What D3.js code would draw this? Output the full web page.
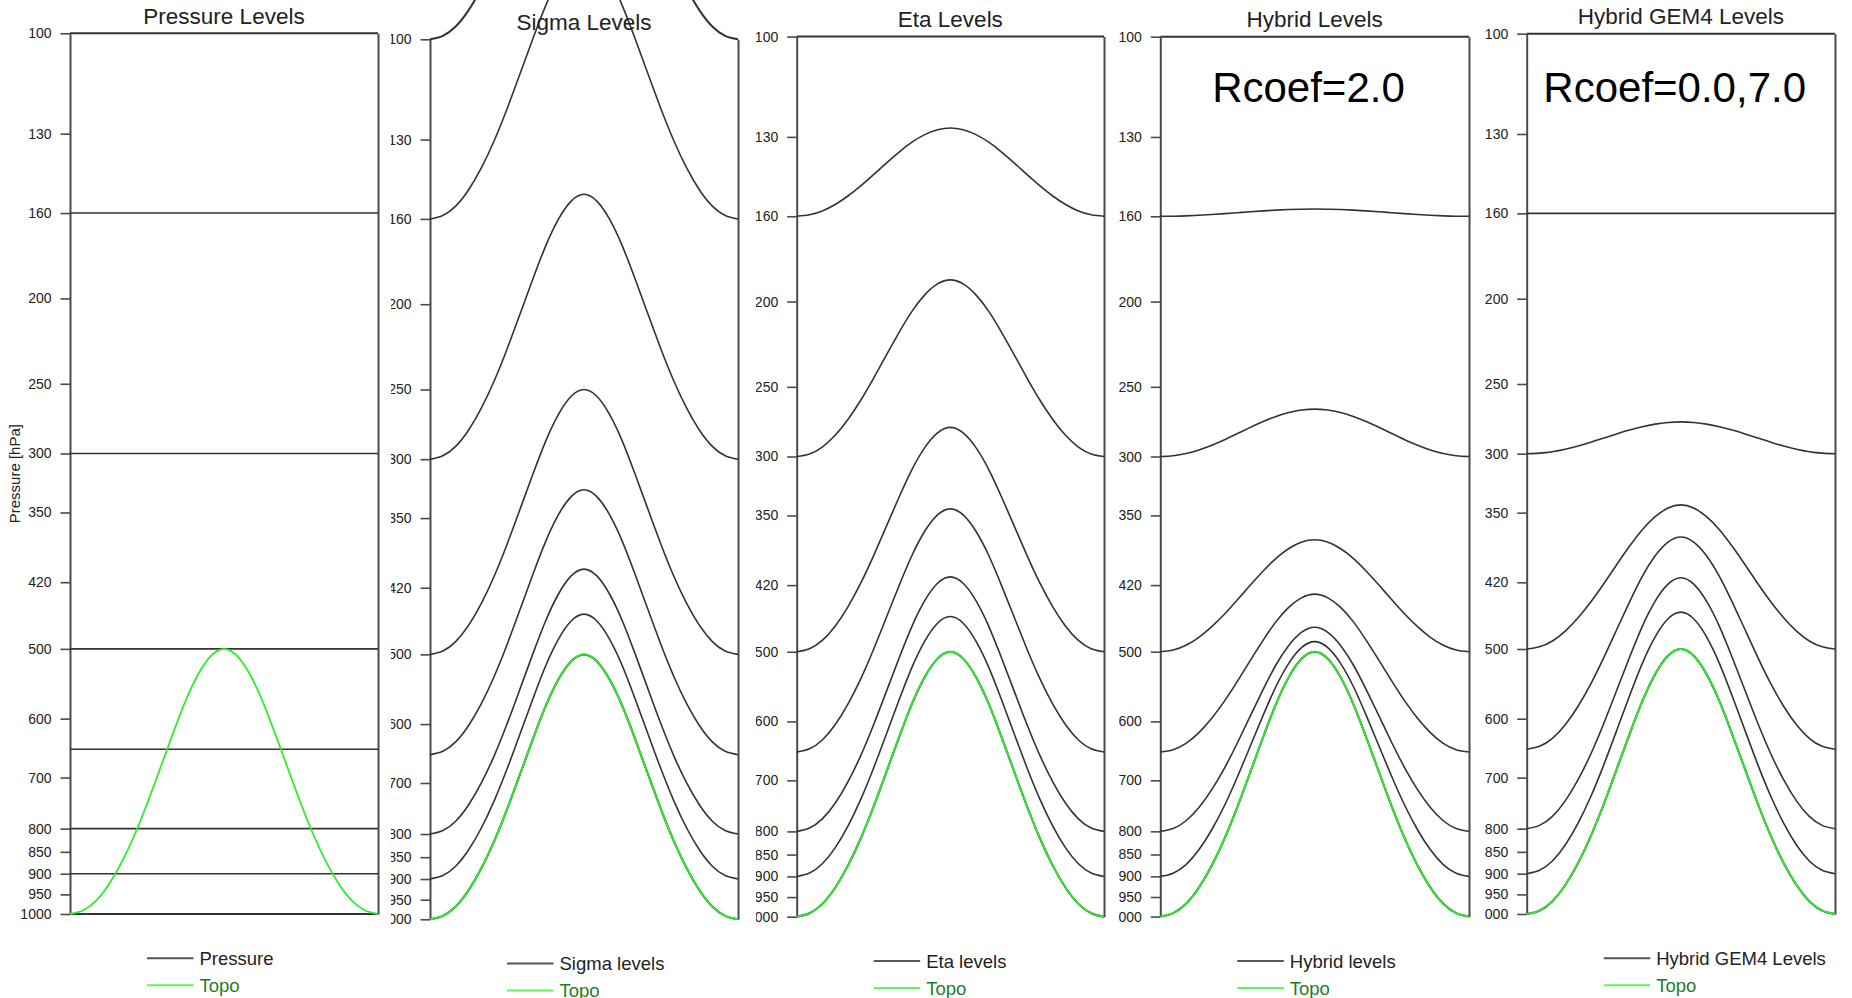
<!DOCTYPE html>
<html>
<head>
<meta charset="utf-8">
<script src="https://cdn.jsdelivr.net/npm/d3@7"></script>
<style>
  html, body { margin: 0; padding: 0; background: #fff; }
  svg { display: block; font-family: "Liberation Sans", Arial, Helvetica, sans-serif; }
</style>
</head>
<body>
<svg id="chart" width="1852" height="998"></svg>
<script>
// Vertical coordinate comparison over an idealised 500 hPa hill.

// Pressure-axis tick values (hPa)
const tickValues = [100, 130, 160, 200, 250, 300, 350, 420, 500, 600, 700, 800, 850, 900, 950, 1000];

// Surface pressure (hPa) across the hill, sampled left to right
const terrainPs = [1000, 991, 967, 927, 875, 815, 750, 685, 625, 573, 534, 509, 500,
                   509, 534, 573, 625, 685, 750, 815, 875, 927, 967, 991, 1000];

const panelTitles = ["Pressure Levels", "Sigma Levels", "Eta Levels", "Hybrid Levels", "Hybrid GEM4 Levels"];
const legendLabels = ["Pressure", "Sigma levels", "Eta levels", "Hybrid levels", "Hybrid GEM4 Levels"];
const annotations = ["", "", "", "Rcoef=2.0", "Rcoef=0.0,7.0"];

// Level pressure over flat ground (ps = 1000 hPa)
const levelBaseP = [100, 160, 300, 500, 650, 800, 900, 1000];

// Level pressure over the hill crest (ps = 500 hPa), one list per coordinate
const pressureCrestP = [100, 160, 300, 500, 650, 800, 900, 1000];
const sigmaCrestP    = [50, 80, 150, 250, 325, 400, 450, 500];
const etaCrestP      = [100, 127, 189, 278, 344, 411, 456, 500];
const hybridCrestP   = [100, 157, 265, 373, 430, 469, 487, 500];
const gem4CrestP     = [100, 160, 276, 343, 373, 415, 454, 500];

const crestSets = [pressureCrestP, sigmaCrestP, etaCrestP, hybridCrestP, gem4CrestP];

// Panel frames on the page
const layout = [
  { left: 70,     right: 378,  top: 33.3, bottom: 914,   clipX: 0 },
  { left: 430,    right: 738,  top: 39.3, bottom: 919.3, clipX: 391 },
  { left: 796.7,  right: 1104, top: 36.6, bottom: 916.7, clipX: 756 },
  { left: 1160.3, right: 1469, top: 36.7, bottom: 916.6, clipX: 1119 },
  { left: 1526.7, right: 1835, top: 33.7, bottom: 914,   clipX: 1485 }
];

const LEVEL_COLOR = "#333";
const AXIS_COLOR = "#4a4a4a";
const TOPO_COLOR = "#2bee2b";
const TOPO_TEXT = "#1f7d1f";

const svg = d3.select("#chart");
const defs = svg.append("defs");

const psMax = d3.max(terrainPs), psMin = d3.min(terrainPs);
const samplePos = terrainPs.map((_, i) => i / (terrainPs.length - 1));

layout.forEach((L, k) => {
  defs.append("clipPath").attr("id", "clip" + k)
    .append("rect").attr("x", L.clipX).attr("y", 0)
    .attr("width", 1852 - L.clipX).attr("height", 998);

  const g = svg.append("g").attr("clip-path", `url(#clip${k})`);

  const x = d3.scaleLinear().domain([0, 1]).range([L.left, L.right]);
  const y = d3.scaleLog().domain([100, 1000]).range([L.top, L.bottom]);

  // left axis with ticks
  const axL = g.append("g").attr("transform", `translate(${L.left},0)`)
    .call(d3.axisLeft(y).tickValues(tickValues).tickFormat(d3.format("d"))
      .tickSize(9.5).tickPadding(9).tickSizeOuter(0));
  axL.select(".domain").attr("stroke", AXIS_COLOR).attr("stroke-width", 2);
  axL.selectAll(".tick line").attr("stroke", AXIS_COLOR).attr("stroke-width", 1.6);
  axL.selectAll(".tick text").attr("fill", "#222").style("font-size", "14px")
    .style("font-family", "'Liberation Sans', Arial, sans-serif");

  // right axis line
  const axR = g.append("g").attr("transform", `translate(${L.right},0)`)
    .call(d3.axisRight(y).tickValues([]).tickSizeOuter(0));
  axR.select(".domain").attr("stroke", AXIS_COLOR).attr("stroke-width", 2);

  // model levels: p varies linearly with surface pressure
  const crest = crestSets[k];
  const line = d3.line().x(d => x(d.t)).y(d => y(d.p)).curve(d3.curveNatural);
  levelBaseP.forEach((base, j) => {
    const pts = terrainPs.map((ps, i) => ({
      t: samplePos[i],
      p: crest[j] + (base - crest[j]) * (ps - psMin) / (psMax - psMin)
    }));
    g.append("path").datum(pts).attr("d", line)
      .attr("fill", "none").attr("stroke", LEVEL_COLOR)
      .attr("stroke-width", (base === 100 || base === 1000) ? 2 : 1.6);
  });

  // topography
  const topo = terrainPs.map((ps, i) => ({ t: samplePos[i], p: ps }));
  g.append("path").datum(topo).attr("d", line)
    .attr("fill", "none").attr("stroke", TOPO_COLOR).attr("stroke-width", 1.8);

  // title
  g.append("text").attr("x", (L.left + L.right) / 2).attr("y", L.top - 9.5)
    .attr("text-anchor", "middle").attr("fill", "#222").style("font-size", "22.5px")
    .text(panelTitles[k]);

  // annotation
  if (annotations[k]) {
    g.append("text").attr("x", L.left + 0.48 * (L.right - L.left)).attr("y", 101.7)
      .attr("text-anchor", "middle").attr("fill", "#000").style("font-size", "42px")
      .text(annotations[k]);
  }

  // legend
  const lx = L.left + 77;
  const rows = [
    { label: legendLabels[k], stroke: "#555", fill: "#222", dy: 44.3 },
    { label: "Topo", stroke: "#5bfa5b", fill: TOPO_TEXT, dy: 71.3 }
  ];
  rows.forEach(r => {
    const ly = L.bottom + r.dy;
    g.append("line").attr("x1", lx).attr("x2", lx + 46.5).attr("y1", ly).attr("y2", ly)
      .attr("stroke", r.stroke).attr("stroke-width", 2);
    g.append("text").attr("x", lx + 52.5).attr("y", ly + 6.7)
      .attr("fill", r.fill).style("font-size", "18.5px").text(r.label);
  });

  if (k === 0) {
    g.append("text")
      .attr("transform", `translate(19.5,${(L.top + L.bottom) / 2}) rotate(-90)`)
      .attr("text-anchor", "middle").attr("fill", "#222").style("font-size", "15px")
      .text("Pressure [hPa]");
  }
});
</script>
</body>
</html>
